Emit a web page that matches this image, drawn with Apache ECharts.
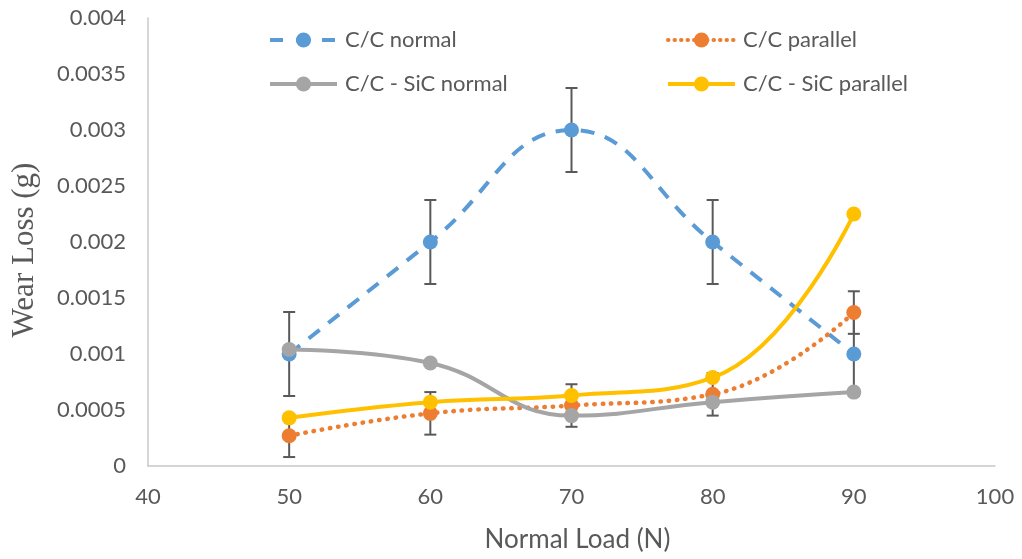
<!DOCTYPE html>
<html>
<head>
<meta charset="utf-8">
<script src="https://cdn.jsdelivr.net/npm/echarts@6/dist/echarts.min.js"></script>
<style>
  html, body { margin: 0; padding: 0; background: #fff; }
  #chart { width: 1022px; height: 559px; }
</style>
</head>
<body>
<div id="chart"></div>
<script>
// Normal load (N)
const loads = [50, 60, 70, 80, 90];

// Wear loss (g) for each specimen / sliding direction
const ccNormal = [0.001, 0.002, 0.003, 0.002, 0.001];
const ccParallel = [0.00027, 0.00047, 0.00054, 0.00064, 0.00137];
const ccSicNormal = [0.00104, 0.00092, 0.00045, 0.00057, 0.00066];
const ccSicParallel = [0.00043, 0.00057, 0.00063, 0.00079, 0.00225];

// Error (±) for the series that carry error bars
const ccNormalErr = [0.000375, 0.000375, 0.000375, 0.000375, 0.000375];
const ccParallelErr = [0.00019, 0.00019, 0.00019, 0.00019, 0.00019];

// Axis ticks
const xTicks = [40, 50, 60, 70, 80, 90, 100];
const yTicks = [0, 0.0005, 0.001, 0.0015, 0.002, 0.0025, 0.003, 0.0035, 0.004];

const seriesNames = ['C/C normal', 'C/C parallel', 'C/C - SiC normal', 'C/C - SiC parallel'];
const colors = ['#5B9BD5', '#ED7D31', '#A5A5A5', '#FFC000'];
const lineTypes = [[14, 11], [0.5, 7.8], 'solid', 'solid'];
const legendLineTypes = [[13, 13], [0.5, 6], 'solid', 'solid'];

const pairs = (vals) => loads.map((x, i) => [x, vals[i]]);
const errRows = (vals, errs) => loads.map((x, i) => [x, vals[i] - errs[i], vals[i] + errs[i]]);

const textColor = '#595959';
const font = 'Lato, "Open Sans", sans-serif';

function errorBarSeries(rows) {
  return {
    type: 'custom',
    silent: true,
    z: 1,
    data: rows,
    renderItem: function (params, api) {
      const x = api.value(0);
      const lo = api.coord([x, api.value(1)]);
      const hi = api.coord([x, api.value(2)]);
      const half = 6;
      const style = { stroke: textColor, lineWidth: 2 };
      return {
        type: 'group',
        children: [
          { type: 'line', shape: { x1: lo[0], y1: lo[1], x2: hi[0], y2: hi[1] }, style },
          { type: 'line', shape: { x1: lo[0] - half, y1: lo[1], x2: lo[0] + half, y2: lo[1] }, style },
          { type: 'line', shape: { x1: hi[0] - half, y1: hi[1], x2: hi[0] + half, y2: hi[1] }, style }
        ]
      };
    }
  };
}

function lineSeries(idx, vals) {
  const dotted = idx === 1;
  return {
    name: seriesNames[idx],
    type: 'line',
    data: pairs(vals),
    smooth: 0.45,
    symbol: 'circle',
    symbolSize: 15,
    z: 3,
    itemStyle: { color: colors[idx] },
    lineStyle: {
      color: colors[idx],
      width: dotted ? 4.5 : 4,
      type: lineTypes[idx],
      cap: dotted ? 'round' : 'butt'
    }
  };
}

function legendAt(idx, left, top) {
  const dotted = idx === 1;
  return {
    data: [{
      name: seriesNames[idx],
      lineStyle: {
        color: colors[idx],
        width: 4,
        type: legendLineTypes[idx],
        cap: dotted ? 'round' : 'butt'
      }
    }],
    left: left,
    top: top,
    itemWidth: 67,
    itemHeight: 19,
    itemGap: 0,
    padding: 0,
    textStyle: { color: textColor, fontSize: 22, fontFamily: font, padding: [0, 0, 0, 3] }
  };
}

const chart = echarts.init(document.getElementById('chart'), null, { renderer: 'canvas' });
chart.setOption({
  animation: false,
  backgroundColor: '#fff',
  color: colors,
  grid: { left: 148, right: 27, top: 18, bottom: 93, containLabel: false, outerBoundsMode: 'none' },
  legend: [
    legendAt(0, 268, 29),
    legendAt(1, 666, 29),
    legendAt(2, 268, 73),
    legendAt(3, 666, 73)
  ],
  xAxis: {
    type: 'value',
    min: xTicks[0],
    max: xTicks[xTicks.length - 1],
    interval: 10,
    name: 'Normal Load (N)',
    nameLocation: 'middle',
    nameGap: 61,
    nameTextStyle: { color: textColor, fontSize: 26, fontFamily: font, padding: [0, 0, 0, 12] },
    axisLine: { lineStyle: { color: '#C8C8C8', width: 1.5 } },
    axisTick: { show: false },
    splitLine: { show: false },
    axisLabel: { color: textColor, fontSize: 22, fontFamily: font, margin: 20 }
  },
  yAxis: {
    type: 'value',
    min: yTicks[0],
    max: yTicks[yTicks.length - 1],
    interval: 0.0005,
    name: 'Wear Loss (g)',
    nameLocation: 'middle',
    nameGap: 108,
    nameTextStyle: {
      color: textColor, fontSize: 31, padding: [0, 16, 0, 0],
      fontFamily: '"Liberation Serif", "DejaVu Serif", serif'
    },
    axisLine: { show: true, lineStyle: { color: '#C8C8C8', width: 1.5 } },
    axisTick: { show: false },
    splitLine: { show: false },
    axisLabel: {
      color: textColor, fontSize: 22, fontFamily: font, margin: 22,
      formatter: (v) => String(parseFloat(v.toFixed(6)))
    }
  },
  series: [
    errorBarSeries(errRows(ccNormal, ccNormalErr)),
    errorBarSeries(errRows(ccParallel, ccParallelErr)),
    lineSeries(0, ccNormal),
    lineSeries(1, ccParallel),
    lineSeries(2, ccSicNormal),
    lineSeries(3, ccSicParallel)
  ]
});
</script>
</body>
</html>
